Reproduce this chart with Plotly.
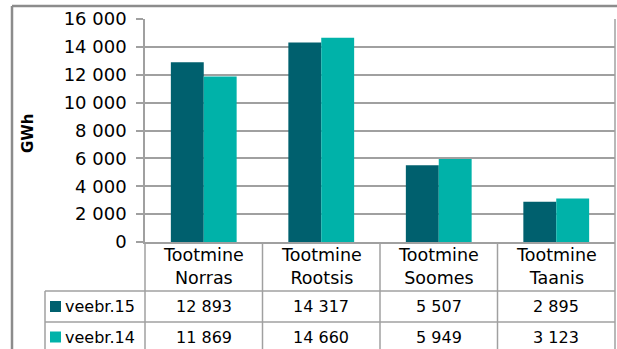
import plotly.graph_objects as go

categories = ["Tootmine<br>Norras", "Tootmine<br>Rootsis", "Tootmine<br>Soomes", "Tootmine<br>Taanis"]
series_names = ["veebr.15", "veebr.14"]
values_15 = [12893, 14317, 5507, 2895]
values_14 = [11869, 14660, 5949, 3123]
colors = ["#00606E", "#00B2A9"]
y_ticks = [0, 2000, 4000, 6000, 8000, 10000, 12000, 14000, 16000]

W, H = 617, 349
L, R, T, B = 145, 2, 19, 107
pw, ph = W - L - R, H - T - B

def px_x(p):
    return (p - L) / pw

def px_y(p):
    return (H - B - p) / ph

def fmt(v):
    return f"{v:,}".replace(",", " ")

xs = list(range(len(categories)))
fig = go.Figure()
for name, vals, col in zip(series_names, [values_15, values_14], colors):
    fig.add_trace(go.Bar(x=xs, y=vals, name=name, marker=dict(color=col, line=dict(width=0)),
                         showlegend=False, hoverinfo="skip"))

grid = "#A0A0A0"
font = "DejaVu Sans"
fig.update_layout(
    width=W, height=H, margin=dict(l=L, r=R, t=T, b=B),
    paper_bgcolor="white", plot_bgcolor="white",
    barmode="group", bargap=0.44, bargroupgap=0,
    separators=". ",
    font=dict(family=font, color="#000000"),
)
fig.update_xaxes(range=[-0.5, len(categories) - 0.5], showticklabels=False, showgrid=False,
                 showline=True, linecolor=grid, linewidth=1.5, ticks="", zeroline=False)
fig.update_yaxes(range=[0, 16000], tickvals=y_ticks, tickformat=",d", showgrid=True,
                 gridcolor=grid, gridwidth=1.5, showline=True, linecolor=grid, linewidth=1.5,
                 ticks="outside", ticklen=7, tickcolor=grid, tickwidth=1.5,
                 tickfont=dict(size=18, family=font, color="#000000"), zeroline=False,
                 ticklabelstandoff=6)

n = len(categories)
y_bottom = px_y(H + 5)
row_lines = [291, 322]
x_leg = px_x(45)
tline = dict(color=grid, width=1.5)

# table vertical lines at category boundaries
for i in range(n + 1):
    xb = i / n
    y_top = 1 if i == n else 0
    fig.add_shape(type="line", xref="paper", yref="paper", x0=xb, x1=xb,
                  y0=y_top, y1=y_bottom, line=tline)
# legend column left edge
fig.add_shape(type="line", xref="paper", yref="paper", x0=x_leg, x1=x_leg,
              y0=px_y(row_lines[0]), y1=y_bottom, line=tline)
# table row lines
for ry in row_lines:
    fig.add_shape(type="line", xref="paper", yref="paper", x0=x_leg, x1=1.0,
                  y0=px_y(ry), y1=px_y(ry), line=tline)

# outer chart border
border = dict(color="#8C8C8C", width=2.5)
fig.add_shape(type="line", xref="paper", yref="paper", x0=px_x(12), x1=px_x(12),
              y0=px_y(6), y1=y_bottom, line=border)
fig.add_shape(type="line", xref="paper", yref="paper", x0=px_x(12), x1=px_x(W + 5),
              y0=px_y(6), y1=px_y(6), line=border)

txt = dict(size=16, family=font, color="#000000")
for i, c in enumerate(categories):
    fig.add_annotation(x=i, xref="x", y=px_y(266.5), yref="paper", text=c, showarrow=False,
                       font=dict(size=17.5, family=font, color="#000000"),
                       align="center", xanchor="center", yanchor="middle")

row_centers = [306.5, 337]
for r, (name, vals, col) in enumerate(zip(series_names, [values_15, values_14], colors)):
    yc = row_centers[r]
    fig.add_shape(type="rect", xref="paper", yref="paper", x0=px_x(50), x1=px_x(61),
                  y0=px_y(yc - 5.5), y1=px_y(yc + 5.5), fillcolor=col, line=dict(width=0))
    fig.add_annotation(x=px_x(63), xref="paper", y=px_y(yc), yref="paper", text=name,
                       showarrow=False, xanchor="left", yanchor="middle", font=txt)
    for i, v in enumerate(vals):
        fig.add_annotation(x=i, xref="x", y=px_y(yc), yref="paper", text=fmt(v), showarrow=False,
                           xanchor="center", yanchor="middle", font=txt)

fig.add_annotation(x=px_x(28), xref="paper", y=px_y(133), yref="paper", text="<b>GWh</b>",
                   textangle=-90, showarrow=False, xanchor="center", yanchor="middle",
                   font=dict(size=15, family=font, color="#000000"))

fig.write_html("out.html")
